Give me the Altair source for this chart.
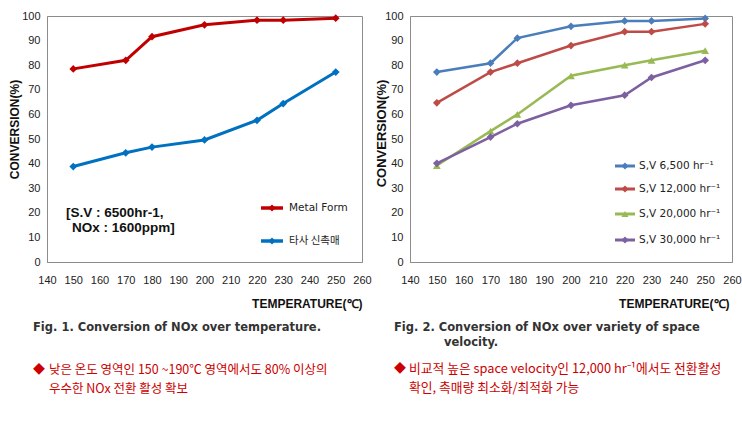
import altair as alt
import pandas as pd

# ---------------- data ----------------
temps = [150, 170, 180, 200, 220, 230, 250]

# Fig. 1
fig1_series = ["Metal Form", "타사 신촉매"]
metal_form = [78.5, 82.0, 91.6, 96.4, 98.3, 98.3, 99.1]
other_catalyst = [38.8, 44.4, 46.7, 49.6, 57.6, 64.4, 77.2]
fig1_colors = ["#c00000", "#0070c0"]
fig1_shapes = ["diamond", "diamond"]

# Fig. 2
fig2_series = ["S,V  6,500 hr⁻¹", "S,V  12,000 hr⁻¹", "S,V  20,000 hr⁻¹", "S,V  30,000 hr⁻¹"]
sv_6500 = [77.2, 80.8, 91.0, 95.8, 98.0, 98.0, 99.0]
sv_12000 = [64.7, 77.2, 80.8, 88.0, 93.6, 93.6, 96.8]
sv_20000 = [39.2, 53.2, 60.0, 75.7, 80.0, 82.0, 85.9]
sv_30000 = [40.1, 50.8, 56.2, 63.7, 67.8, 75.0, 82.0]
fig2_colors = ["#4a7ebb", "#be4b48", "#98b954", "#7d60a0"]
fig2_shapes = ["diamond", "diamond", "triangle-up", "diamond"]

x_ticks = list(range(140, 261, 10))
y_ticks = list(range(0, 101, 10))

fig1_caption = "Fig. 1. Conversion of NOx over temperature."
fig2_caption = ["Fig. 2. Conversion of NOx over variety of space", "velocity."]
fig1_note = ["낮은 온도 영역인 150 ~190℃ 영역에서도 80% 이상의", "우수한 NOx 전환 활성 확보"]
fig2_note = ["비교적 높은 space velocity인 12,000 hr⁻¹에서도 전환활성", "확인, 촉매량 최소화/최적화 가능"]
fig1_box = ["[S.V : 6500hr-1,", "NOx : 1600ppm]"]

FONT = "Liberation Sans"
CFONT = "DejaVu Sans"
KFONT = "Noto Sans CJK KR"


def long_df(names, arrays):
    rows = []
    for n, arr in zip(names, arrays):
        for t, v in zip(temps, arr):
            rows.append({"temp": t, "value": v, "series": n})
    return pd.DataFrame(rows)


def txt(label, x, y, size=11, weight="normal", color="#222", font=FONT, align="left"):
    return alt.Chart(pd.DataFrame({"t": [label]})).mark_text(
        align=align, baseline="middle", fontSize=size, fontWeight=weight,
        color=color, font=font
    ).encode(x=alt.value(x), y=alt.value(y), text="t:N")


def panel(df, names, colors, shapes, ytitle_x, ytitle_y, ytitle_size, xtitle_x, stroke_w,
          leg_x0, leg_x1, leg_xt, leg_ys, leg_size):
    xenc = alt.X("temp:Q", scale=alt.Scale(domain=[140, 260], nice=False, zero=False),
                 axis=alt.Axis(values=x_ticks, title="TEMPERATURE(℃)", labelPadding=12,
                               labelOverlap=False, labelFlush=False,
                               titleX=xtitle_x, titleY=41, titleAlign="right",
                               titleBaseline="middle"))
    yenc = alt.Y("value:Q", scale=alt.Scale(domain=[0, 100], nice=False),
                 axis=alt.Axis(values=y_ticks, title="CONVERSION(%)", labelPadding=7,
                               labelOverlap=False, labelFlush=False,
                               titleX=ytitle_x, titleY=ytitle_y, titleAngle=270,
                               titleFontSize=ytitle_size,
                               titleAlign="center", titleBaseline="middle"))
    cenc = alt.Color("series:N", scale=alt.Scale(domain=names, range=colors), legend=None)
    base = alt.Chart(df).encode(x=xenc, y=yenc, color=cenc)
    line = base.mark_line(strokeWidth=stroke_w)
    pts = base.mark_point(filled=True, size=60, opacity=1).encode(
        shape=alt.Shape("series:N", scale=alt.Scale(domain=names, range=shapes), legend=None))
    layers = [line, pts]
    for name, col, shp, yy in zip(names, colors, shapes, leg_ys):
        d = pd.DataFrame({"series": [name]})
        layers.append(alt.Chart(d).mark_rule(strokeWidth=stroke_w + 0.5, color=col).encode(
            x=alt.value(leg_x0), x2=alt.value(leg_x1), y=alt.value(yy)))
        layers.append(alt.Chart(d).mark_point(shape=shp, filled=True, size=50, color=col,
                                              opacity=1).encode(
            x=alt.value((leg_x0 + leg_x1) / 2), y=alt.value(yy)))
        layers.append(alt.Chart(d).mark_text(align="left", baseline="middle",
                                             fontSize=leg_size, font=KFONT if "타사" in name else CFONT,
                                             color="#222").encode(
            x=alt.value(leg_xt), y=alt.value(yy), text="series:N"))
    return layers


# ---------------- left panel ----------------
df1 = long_df(fig1_series, [metal_form, other_catalyst])
left_layers = panel(df1, fig1_series, fig1_colors, fig1_shapes,
                    ytitle_x=-33, ytitle_y=113, ytitle_size=12, xtitle_x=315, stroke_w=3,
                    leg_x0=214, leg_x1=236, leg_xt=242, leg_ys=[192, 225], leg_size=10.5)
left_layers += [
    txt(fig1_box[0], 19, 197, size=13.5, weight="bold", color="#111"),
    txt(fig1_box[1], 25, 212, size=13.5, weight="bold", color="#111"),
    txt(fig1_caption, -14, 312, size=11.5, weight="bold", color="#333", font=CFONT),
    txt("◆", -14, 354, size=12, color="#cc0000", font=KFONT),
    txt(fig1_note[0], 2, 354, size=12.5, color="#cc0000", font=KFONT),
    txt(fig1_note[1], 2, 373, size=12.5, color="#cc0000", font=KFONT),
]
left = alt.layer(*left_layers).properties(width=315, height=246)

# ---------------- right panel ----------------
df2 = long_df(fig2_series, [sv_6500, sv_12000, sv_20000, sv_30000])
right_layers = panel(df2, fig2_series, fig2_colors, fig2_shapes,
                     ytitle_x=-29, ytitle_y=117, ytitle_size=13, xtitle_x=319, stroke_w=2.5,
                     leg_x0=205, leg_x1=225, leg_xt=229, leg_ys=[150, 173, 198, 224], leg_size=10.5)
right_layers += [
    txt(fig2_caption[0], -16, 312, size=11.5, weight="bold", color="#333", font=CFONT),
    txt(fig2_caption[1], 34, 327, size=11.5, weight="bold", color="#333", font=CFONT),
    txt("◆", -16, 353, size=12, color="#cc0000", font=KFONT),
    txt(fig2_note[0], -1, 353, size=12.8, color="#cc0000", font=KFONT),
    txt(fig2_note[1], -1, 372, size=12.8, color="#cc0000", font=KFONT),
]
right = alt.layer(*right_layers).properties(width=322, height=246)

chart = alt.hconcat(left, right, spacing=48, bounds="flush").resolve_scale(
    color="independent", shape="independent"
).properties(
    padding={"left": 7, "top": 9, "right": 0, "bottom": 30},
    background="white",
).configure_view(stroke="#8c8c8c", strokeWidth=1).configure_axis(
    grid=False, ticks=False, domainColor="#8c8c8c", domainWidth=1,
    labelFont=FONT, labelFontSize=11, labelColor="#222",
    titleFont=FONT, titleFontSize=12, titleFontWeight="bold", titleColor="#111",
)

chart.save("out.html", embed_options={"renderer": "svg", "actions": False})
